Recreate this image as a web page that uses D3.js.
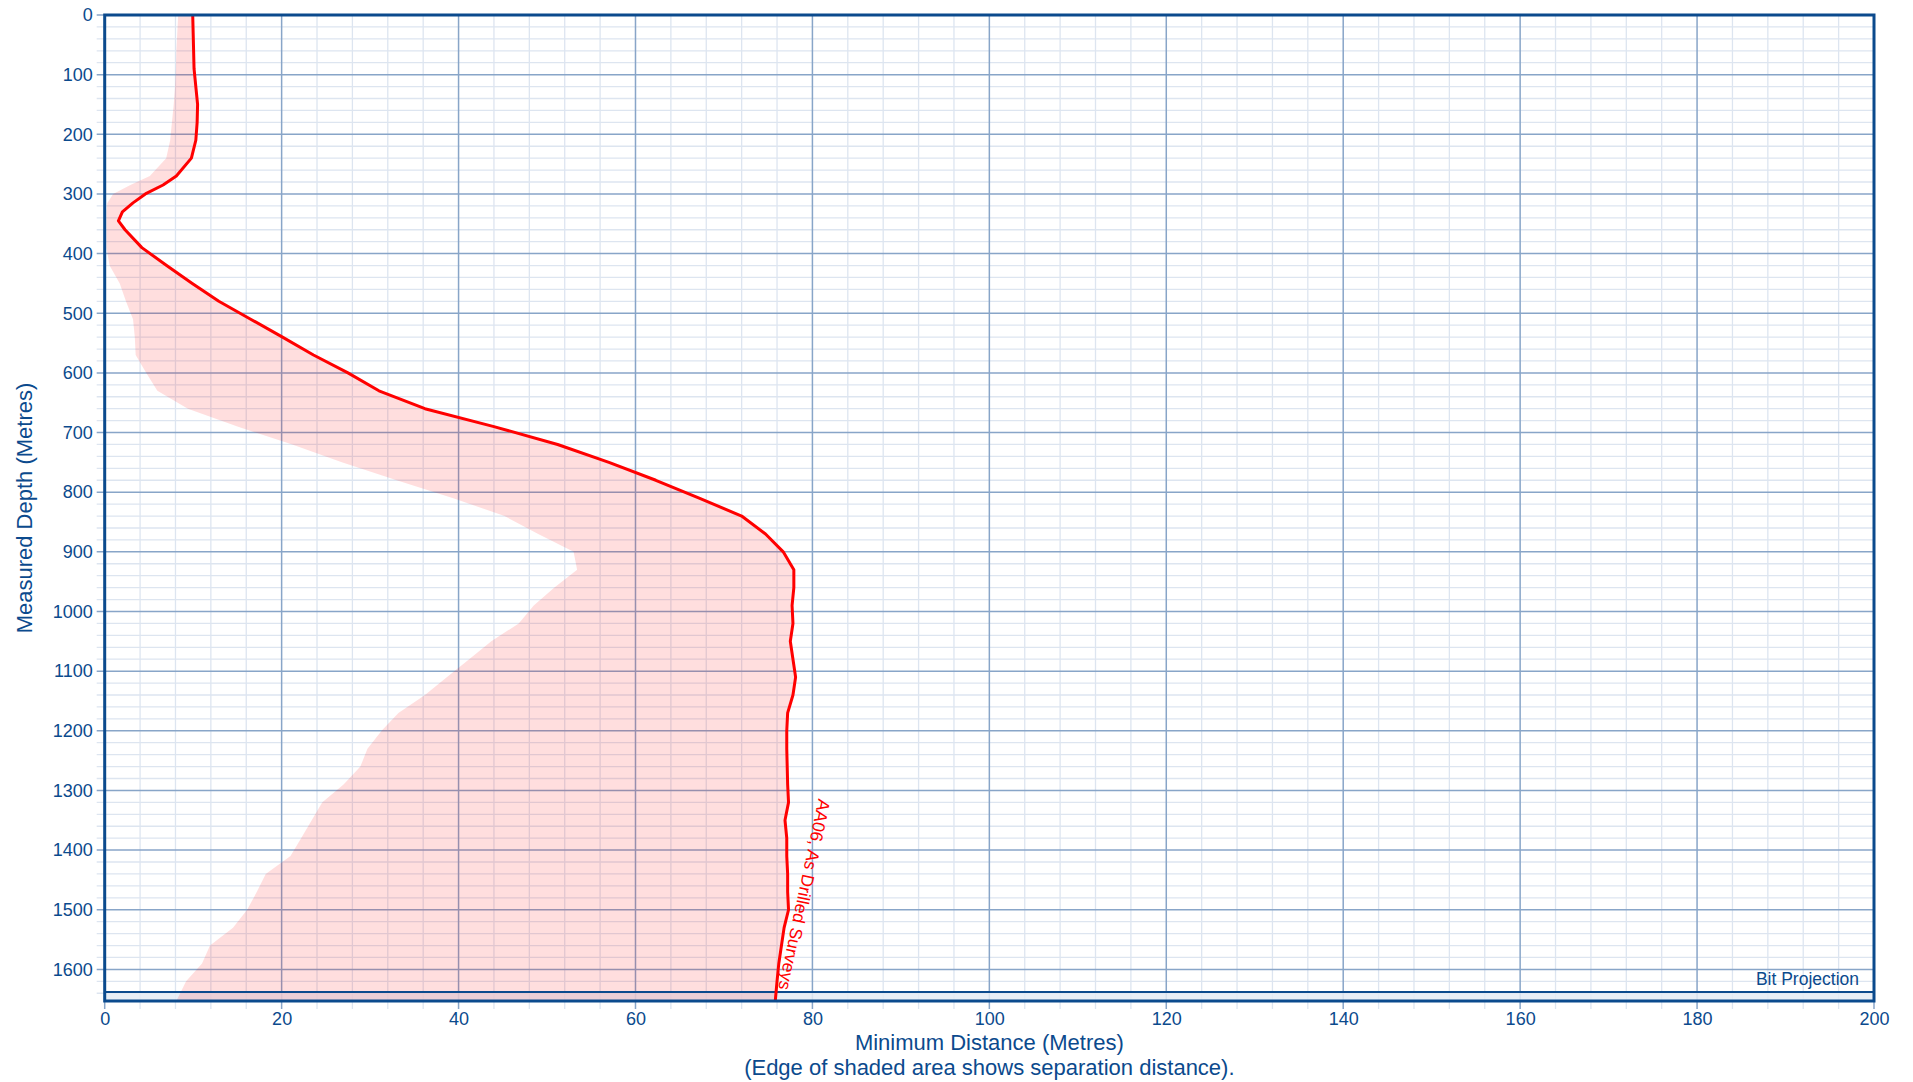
<!DOCTYPE html>
<html><head><meta charset="utf-8">
<script src="https://cdn.jsdelivr.net/npm/d3@7"></script>
<style>
body{margin:0;background:#fff;}
svg{display:block;}
text{font-family:"Liberation Sans",Arial,Helvetica,sans-serif;}
</style>
</head><body>
<svg id="chart" width="1913" height="1082"></svg>
<script>
// ---- data ----
const depths = [0,30,60,90,120,150,180,210,240,270,285,300,315,330,345,360,390,420,450,480,510,540,570,600,630,660,690,720,750,780,810,840,870,900,930,960,990,1020,1050,1080,1110,1140,1170,1200,1230,1260,1290,1320,1350,1380,1410,1440,1470,1500,1530,1560,1590,1620,1653];
const minDistance = [9.95,10.0,10.05,10.1,10.3,10.5,10.45,10.3,9.8,8.1,6.6,4.6,3.2,2.0,1.55,2.3,4.2,7.0,9.9,12.9,16.5,20.1,23.6,27.5,31.0,36.2,44.0,51.2,57.0,62.3,67.2,72.0,74.7,76.7,77.9,77.9,77.7,77.8,77.5,77.8,78.1,77.8,77.2,77.1,77.1,77.15,77.2,77.3,76.9,77.1,77.1,77.2,77.2,77.3,76.8,76.5,76.2,76.0,75.8];
const separationEdge = [8.3,8.2,8.1,8.05,7.95,7.8,7.6,7.4,6.95,5.1,2.9,0.95,0.3,0.2,0.2,0.2,0.2,0.55,1.7,2.4,3.2,3.4,3.5,4.7,5.95,9.4,15.0,21.2,26.8,33.0,39.4,45.2,49.0,53.0,53.4,50.8,48.5,46.8,43.7,41.2,38.7,36.2,33.2,31.3,29.7,28.9,27.0,24.6,23.4,22.2,21.0,18.2,17.2,16.1,14.5,11.9,11.0,9.2,8.1];
const xTicks = [0,20,40,60,80,100,120,140,160,180,200];
const yTicks = [0,100,200,300,400,500,600,700,800,900,1000,1100,1200,1300,1400,1500,1600];
const xDomain = [0,200];
const yDomain = [0,1653];
const bitProjectionDepth = 1638;
const xTitle = "Minimum Distance (Metres)";
const xSubtitle = "(Edge of shaded area shows separation distance).";
const yTitle = "Measured Depth (Metres)";
const seriesName = "AA06, As Drilled Surveys";
const bitLabel = "Bit Projection";
const labelAt = {dist:80.7, depth:1313};

// ---- layout ----
const L = 104.7, R = 1874, T = 15, B = 1001;
const axisBlue = "#0b4a8d";
const svg = d3.select("#chart");

const x = d3.scaleLinear().domain(xDomain).range([L, R]);
const y = d3.scaleLinear().domain(yDomain).range([T, B]);

const rows = depths.map((d,i)=>({depth:d, dist:minDistance[i], sep:separationEdge[i]}));

// minor grid
const minorX = d3.range(0, 201, 4).filter(v => v % 20 !== 0);
const minorY = d3.range(0, 1653, 20).filter(v => v % 100 !== 0);
const grid = svg.append("g");
grid.selectAll("line.mx").data(minorX).join("line")
  .attr("x1", d=>x(d)).attr("x2", d=>x(d)).attr("y1", T).attr("y2", B+8)
  .attr("stroke", "#dde5f0").attr("stroke-width", 1.3);
grid.selectAll("line.my").data(minorY).join("line")
  .attr("x1", L-8).attr("x2", R).attr("y1", d=>y(d)).attr("y2", d=>y(d))
  .attr("stroke", "#dde5f0").attr("stroke-width", 1.3);
// major grid
grid.selectAll("line.Mx").data(xTicks).join("line")
  .attr("x1", d=>x(d)).attr("x2", d=>x(d)).attr("y1", T).attr("y2", B+8)
  .attr("stroke", "#88a5c8").attr("stroke-width", 1.5);
grid.selectAll("line.My").data(yTicks).join("line")
  .attr("x1", L-8).attr("x2", R).attr("y1", d=>y(d)).attr("y2", d=>y(d))
  .attr("stroke", "#88a5c8").attr("stroke-width", 1.5);

// bit projection band
svg.append("rect")
  .attr("x", L).attr("y", y(bitProjectionDepth))
  .attr("width", R-L).attr("height", y(yDomain[1]) - y(bitProjectionDepth))
  .attr("fill", "#e4ebf4").attr("opacity", 0.85);

// shaded area between separation edge and min distance
const area = d3.area()
  .y(d => y(d.depth))
  .x0(d => x(d.sep))
  .x1(d => x(d.dist));
svg.append("path").datum(rows)
  .attr("d", area)
  .attr("fill", "#ff0000").attr("fill-opacity", 0.13);

// bit projection line
svg.append("line")
  .attr("x1", L).attr("x2", R)
  .attr("y1", y(bitProjectionDepth)).attr("y2", y(bitProjectionDepth))
  .attr("stroke", axisBlue).attr("stroke-width", 2);

// red line
const line = d3.line().x(d=>x(d.dist)).y(d=>y(d.depth));
svg.append("path").datum(rows)
  .attr("d", line).attr("fill", "none")
  .attr("stroke", "#ff0000").attr("stroke-width", 3)
  .attr("stroke-linejoin", "round");

// frame
svg.append("rect")
  .attr("x", L).attr("y", T).attr("width", R-L).attr("height", B-T)
  .attr("fill", "none").attr("stroke", axisBlue).attr("stroke-width", 3);

// axes labels via d3 axes
const xAxis = svg.append("g").attr("transform", `translate(0,${B})`)
  .call(d3.axisBottom(x).tickValues(xTicks).tickSize(0).tickPadding(11).tickFormat(d3.format("d")));
xAxis.select(".domain").remove();
xAxis.selectAll("text").attr("fill", axisBlue).attr("font-size", 18)
  .style("font-family", '"Liberation Sans",Arial,sans-serif');

const yAxis = svg.append("g").attr("transform", `translate(${L},0)`)
  .call(d3.axisLeft(y).tickValues(yTicks).tickSize(0).tickPadding(12).tickFormat(d3.format("d")));
yAxis.select(".domain").remove();
yAxis.selectAll("text").attr("fill", axisBlue).attr("font-size", 18)
  .style("font-family", '"Liberation Sans",Arial,sans-serif');

// titles
svg.append("text").attr("x", (L+R)/2).attr("y", 1050)
  .attr("text-anchor", "middle").attr("font-size", 22).attr("fill", axisBlue)
  .text(xTitle);
svg.append("text").attr("x", (L+R)/2).attr("y", 1075)
  .attr("text-anchor", "middle").attr("font-size", 22).attr("fill", axisBlue)
  .text(xSubtitle);
svg.append("text")
  .attr("transform", `translate(32,${(T+B)/2}) rotate(-90)`)
  .attr("text-anchor", "middle").attr("font-size", 22).attr("fill", axisBlue)
  .text(yTitle);

// bit projection label
svg.append("text").attr("x", R-15).attr("y", y(bitProjectionDepth)-7)
  .attr("text-anchor", "end").attr("font-size", 17.5).attr("fill", axisBlue)
  .text(bitLabel);

// series label
svg.append("text")
  .attr("transform", `translate(${x(labelAt.dist)},${y(labelAt.depth)}) rotate(102)`)
  .attr("font-size", 17.5).attr("fill", "#ff0000")
  .text(seriesName);
</script>
</body></html>
